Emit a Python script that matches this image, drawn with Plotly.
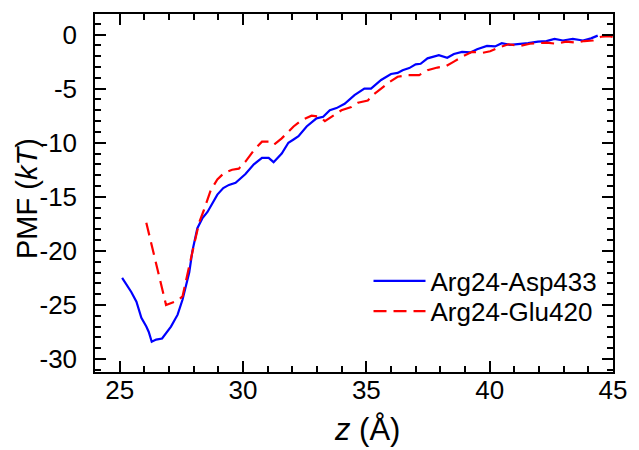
import plotly.graph_objects as go

# ---- data ----
asp_z = [25.1, 25.47, 25.68, 25.88, 26.08, 26.18, 26.3, 26.48, 26.72, 26.9, 27.08, 27.35, 27.55,
         27.82, 27.95, 28.15, 28.35, 28.56, 28.8, 28.96, 29.2, 29.43, 29.7, 29.9, 30.1, 30.44,
         30.77, 31.04, 31.24, 31.57, 31.84, 32.05, 32.25, 32.58, 32.98, 33.25, 33.52, 33.79,
         34.12, 34.52, 34.92, 35.19, 35.6, 36.0, 36.27, 36.47, 36.74, 37.0, 37.2, 37.48, 37.94,
         38.28, 38.55, 38.88, 39.22, 39.49, 39.89, 40.22, 40.49, 40.82, 41.22, 41.56, 41.96,
         42.3, 42.63, 42.97, 43.37, 43.78, 44.11, 44.38]
asp_pmf = [-22.5, -23.8, -24.7, -26.2, -27.0, -27.5, -28.4, -28.2, -28.1, -27.6, -27.0, -25.9, -24.5,
           -22.0, -20.0, -17.9, -17.0, -16.4, -15.4, -14.8, -14.2, -13.9, -13.7, -13.3, -12.9, -12.0,
           -11.4, -11.4, -11.8, -11.0, -10.0, -9.7, -9.4, -8.5, -7.75, -7.6, -7.0, -6.8,
           -6.4, -5.6, -5.0, -5.0, -4.2, -3.65, -3.55, -3.3, -3.1, -2.75, -2.7, -2.2, -1.9,
           -2.15, -1.8, -1.6, -1.65, -1.35, -1.05, -1.1, -0.8, -0.95, -0.9, -0.8, -0.65,
           -0.6, -0.4, -0.55, -0.4, -0.55, -0.35, -0.1]

glu_z = [26.08, 26.88, 27.35, 27.55, 27.82, 28.02, 28.22, 28.42, 28.69, 28.96, 29.23, 29.56, 29.83,
         30.1, 30.44, 30.77, 31.04, 31.24, 31.57, 32.05, 32.38, 32.78, 33.12, 33.32, 33.65, 33.99,
         34.39, 34.66, 35.06, 35.26, 35.6, 35.93, 36.27, 36.67, 37.14, 37.48, 37.88, 38.21, 38.55,
         38.88, 39.29, 39.69, 40.02, 40.36, 40.76, 41.22, 41.63, 41.96, 42.3, 42.71, 43.1, 43.51,
         43.84, 44.18, 44.38, 44.52, 44.85, 45.1]
glu_pmf = [-17.4, -25.0, -24.6, -24.2, -21.4, -19.3, -17.4, -16.2, -14.4, -13.4, -12.8, -12.5, -12.4,
           -11.75, -10.7, -9.9, -9.9, -10.2, -9.6, -8.5, -7.9, -7.5, -7.6, -8.0, -7.5, -7.0,
           -6.7, -6.3, -6.1, -5.6, -5.0, -4.4, -3.9, -3.75, -3.75, -3.3, -3.05, -2.95, -2.5,
           -2.05, -1.6, -1.7, -1.55, -1.2, -0.9, -1.05, -0.85, -0.8, -0.75, -0.85, -0.65, -0.75,
           -0.6, -0.55, -0.35, -0.2, -0.15, -0.3]

series_names = ["Arg24-Asp433", "Arg24-Glu420"]

x_tickvals = [25, 30, 35, 40, 45]
x_ticktext = ["25", "30", "35", "40", "45"]
y_tickvals = [0, -5, -10, -15, -20, -25, -30]
y_ticktext = ["0", "-5", "-10", "-15", "-20", "-25", "-30"]

x_title = "<i>z</i> (Å)"
y_title = "PMF (<i>kT</i>)"

FONT = "Liberation Sans, Arial, Helvetica, sans-serif"

fig = go.Figure()
fig.add_trace(go.Scatter(x=asp_z, y=asp_pmf, mode="lines", name=series_names[0], legend="legend",
                         line=dict(color="#0000ff", width=2.2)))
fig.add_trace(go.Scatter(x=glu_z, y=glu_pmf, mode="lines", name=series_names[1], legend="legend2",
                         line=dict(color="#ff0000", width=2.2, dash="13px,7px")))

axis_common = dict(showgrid=False, zeroline=False, showline=True, linecolor="black", linewidth=1.5,
                   mirror="ticks", ticks="inside", ticklen=11, tickwidth=1.5, tickcolor="black",
                   tickfont=dict(size=26, color="black", family=FONT))

fig.update_xaxes(range=[24, 45], tickmode="array", tickvals=x_tickvals, ticktext=x_ticktext,
                 minor=dict(dtick=1, tick0=0, ticks="inside", ticklen=6, tickwidth=1.5, tickcolor="black"),
                 ticklabelstandoff=-6,
                 **axis_common)
fig.update_yaxes(range=[-31.2, 1.9], tickmode="array", tickvals=y_tickvals, ticktext=y_ticktext,
                 minor=dict(dtick=1, tick0=0, ticks="inside", ticklen=6, tickwidth=1.5, tickcolor="black"),
                 ticklabelstandoff=11,
                 **axis_common)

fig.add_annotation(text=y_title, xref="paper", yref="paper", x=-0.13, y=0.485,
                   xanchor="center", yanchor="middle", textangle=-90, showarrow=False,
                   font=dict(size=29, color="black", family=FONT))
fig.add_annotation(text=x_title, xref="paper", yref="paper", x=0.525, y=-0.16,
                   xanchor="center", yanchor="middle", showarrow=False,
                   font=dict(size=31, color="black", family=FONT))

legend_common = dict(xanchor="left", yanchor="middle", bgcolor="rgba(0,0,0,0)",
                     font=dict(size=26, color="black", family=FONT), itemwidth=52)

fig.update_layout(
    width=639, height=450,
    margin=dict(l=95, r=22, t=14, b=78, pad=0),
    plot_bgcolor="white", paper_bgcolor="white",
    font=dict(family=FONT, color="black"),
    showlegend=True,
    legend=dict(x=0.528, y=0.254, **legend_common),
    legend2=dict(x=0.528, y=0.170, **legend_common),
)

fig.write_html("out.html", post_script="document.body.style.margin='0';",
               config={"displayModeBar": False})
